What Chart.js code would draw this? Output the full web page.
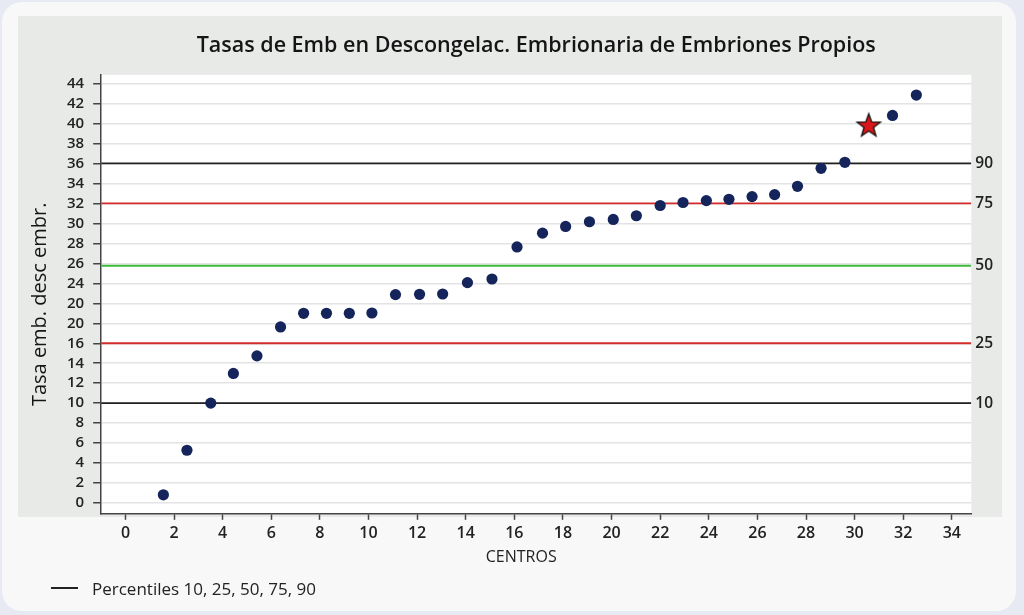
<!DOCTYPE html>
<html><head><meta charset="utf-8">
<script src="https://cdn.jsdelivr.net/npm/chart.js@4.4.1/dist/chart.umd.min.js"></script>
<style>
html,body{margin:0;padding:0;width:1024px;height:615px;overflow:hidden;background:#e7eaf2;font-family:"Open Sans",sans-serif;}
#card{position:absolute;left:2px;top:2px;width:1014px;height:609px;background:#f8f8f8;border-radius:20px;}
#panel{position:absolute;left:18px;top:16px;width:984px;height:501px;background:#e8eae8;}
#wrap{position:absolute;left:0;top:0;width:1024px;height:615px;}
#legend{position:absolute;left:51px;top:577px;height:22px;display:flex;align-items:center;font-size:17px;color:#222;font-family:"Open Sans",sans-serif;}
#legend .ln{display:inline-block;width:27px;height:2px;background:#222;margin-right:14px;}
</style></head>
<body>
<div id="card"></div>
<div id="panel"></div>
<div id="wrap"><canvas id="c" width="1024" height="615"></canvas></div>
<div id="legend"><span class="ln"></span><span id="legendText"></span></div>
<script>
// ---- data (y values are in the axis' position units; the axis labels come from yTickLabels) ----
const chartTitle = "Tasas de Emb en Descongelac. Embrionaria de Embriones Propios";
const yAxisTitle = "Tasa emb. desc embr.";
const xAxisTitle = "CENTROS";
const legendLabel = "Percentiles 10, 25, 50, 75, 90";

const centros = [1.56, 2.53, 3.51, 4.44, 5.41, 6.38, 7.33, 8.27, 9.21, 10.14, 11.11, 12.10, 13.05, 14.07, 15.08, 16.11,
                 17.16, 18.11, 19.09, 20.07, 21.02, 22.0, 22.94, 23.9, 24.83, 25.78, 26.71, 27.65, 28.62, 29.6, 31.56, 32.54];
const tasas = [0.83, 5.29, 10.01, 12.98, 14.74, 17.63, 19.0, 19.0, 19.0, 19.03, 20.87, 20.9, 20.93, 22.07, 22.43, 25.64,
               27.02, 27.69, 28.16, 28.39, 28.76, 29.79, 30.09, 30.28, 30.41, 30.68, 30.88, 31.71, 33.51, 34.11, 38.8, 40.84];
const propioCentro = [30.58];
const propioTasa = [37.8];

const yTickLabels = ["0","2","4","6","8","10","12","14","16","20","20","24","26","28","30","32","34","36","38","40","42","44"];
const xTickValues = [0,2,4,6,8,10,12,14,16,18,20,22,24,26,28,30,32,34];

const percentileNames = ["10","25","50","75","90"];
const percentileValues = [10, 16, 23.76, 30, 34];
const percentileColors = ["#222222","#d42b2b","#3dba3d","#d42b2b","#222222"];

const X_MIN = -1, X_MAX = 34.8, Y_MIN = -1.07, Y_MAX = 42.87;

document.getElementById('legendText').textContent = legendLabel;

// star image for the highlighted centre
function makeStar(){
  const c = document.createElement('canvas');
  c.width = 30; c.height = 30;
  const g = c.getContext('2d');
  const cx = 15, cy = 15.5, R = 12.3, r = 5.0;
  g.beginPath();
  for (let i = 0; i < 10; i++){
    const ang = -Math.PI/2 + i*Math.PI/5;
    const rad = i % 2 === 0 ? R : r;
    const px = cx + rad*Math.cos(ang), py = cy + rad*Math.sin(ang);
    if (i === 0) g.moveTo(px, py); else g.lineTo(px, py);
  }
  g.closePath();
  g.fillStyle = '#d8161b';
  g.fill();
  g.lineWidth = 1.3;
  g.strokeStyle = '#111';
  g.stroke();
  return c;
}

Chart.defaults.font.family = '"Open Sans", sans-serif';
Chart.defaults.color = '#222';

const plotBg = {
  id: 'plotBg',
  beforeDraw(chart){
    const {ctx, chartArea: a} = chart;
    ctx.save();
    ctx.fillStyle = '#ffffff';
    ctx.fillRect(a.left, a.top, a.right - a.left, a.bottom - a.top);
    ctx.restore();
  }
};

// axis titles placed like the reference (slightly off-centre)
const axisTitles = {
  id: 'axisTitles',
  afterDraw(chart){
    const {ctx, chartArea: a} = chart;
    ctx.save();
    ctx.fillStyle = '#151515';
    ctx.textAlign = 'center';
    ctx.textBaseline = 'middle';
    ctx.font = '500 20px "Open Sans", sans-serif';
    ctx.translate(40, (a.top + a.bottom) / 2 + 10);
    ctx.rotate(-Math.PI / 2);
    ctx.fillText(yAxisTitle, 0, 0);
    ctx.restore();
    ctx.save();
    ctx.fillStyle = '#222';
    ctx.textAlign = 'center';
    ctx.textBaseline = 'middle';
    ctx.font = '16px "Open Sans", sans-serif';
    ctx.fillText(xAxisTitle, (a.left + a.right) / 2 - 15, a.bottom + 44);
    ctx.restore();
  }
};

const datasets = [];
percentileValues.forEach((v, i) => {
  datasets.push({
    type: 'line',
    label: 'P' + percentileNames[i],
    data: [{x: X_MIN, y: v}, {x: X_MAX, y: v}],
    borderColor: percentileColors[i],
    borderWidth: 1.8,
    pointRadius: 0,
    order: 2
  });
});
datasets.push({
  type: 'scatter',
  label: 'Centros',
  data: centros.map((x, i) => ({x, y: tasas[i]})),
  backgroundColor: '#15245b',
  borderWidth: 0,
  pointRadius: 5.6,
  order: 1
});
datasets.push({
  type: 'scatter',
  label: 'Propio',
  data: propioCentro.map((x, i) => ({x, y: propioTasa[i]})),
  pointStyle: makeStar(),
  pointRadius: 12,
  order: 0
});

new Chart(document.getElementById('c'), {
  data: { datasets },
  plugins: [plotBg, axisTitles],
  options: {
    responsive: false,
    animation: false,
    devicePixelRatio: 1,
    layout: { padding: { left: 58, right: 27, top: 0, bottom: 68 } },
    plugins: {
      legend: { display: false },
      tooltip: { enabled: false },
      title: {
        display: true,
        text: chartTitle,
        fullSize: false,
        color: '#151515',
        font: { size: 21.5, weight: 600 },
        padding: { top: 33, bottom: 16 }
      }
    },
    scales: {
      x: {
        type: 'linear',
        min: X_MIN, max: X_MAX,
        afterBuildTicks: s => { s.ticks = xTickValues.map(v => ({value: v})); },
        ticks: { font: { size: 16, weight: 600 }, color: '#222', padding: 4, autoSkip: false, maxRotation: 0 },
        grid: { drawOnChartArea: false, drawTicks: true, tickLength: 6, tickColor: '#444', tickWidth: 1.5 },
        border: { color: '#444', width: 1.5 }
      },
      y: {
        type: 'linear',
        position: 'left',
        min: Y_MIN, max: Y_MAX,
        afterBuildTicks: s => { s.ticks = yTickLabels.map((l, i) => ({value: i * 2})); },
        ticks: { callback: (v, i) => yTickLabels[i], font: { size: 15, weight: 600 }, color: '#222', padding: 9, autoSkip: false },
        grid: { color: '#e3e3e3', lineWidth: 1.5, drawTicks: true, tickLength: 8, tickColor: '#444', tickWidth: 1.5 },
        border: { color: '#444', width: 1.5 }
      },
      y2: {
        type: 'linear',
        position: 'right',
        min: Y_MIN, max: Y_MAX,
        afterBuildTicks: s => { s.ticks = percentileValues.map(v => ({value: v})); },
        ticks: { callback: (v, i) => percentileNames[i], font: { size: 15.5, weight: 600 }, color: '#222', padding: 4, autoSkip: false },
        grid: { display: false, drawTicks: false },
        border: { display: false }
      }
    }
  }
});
</script>
</body></html>
